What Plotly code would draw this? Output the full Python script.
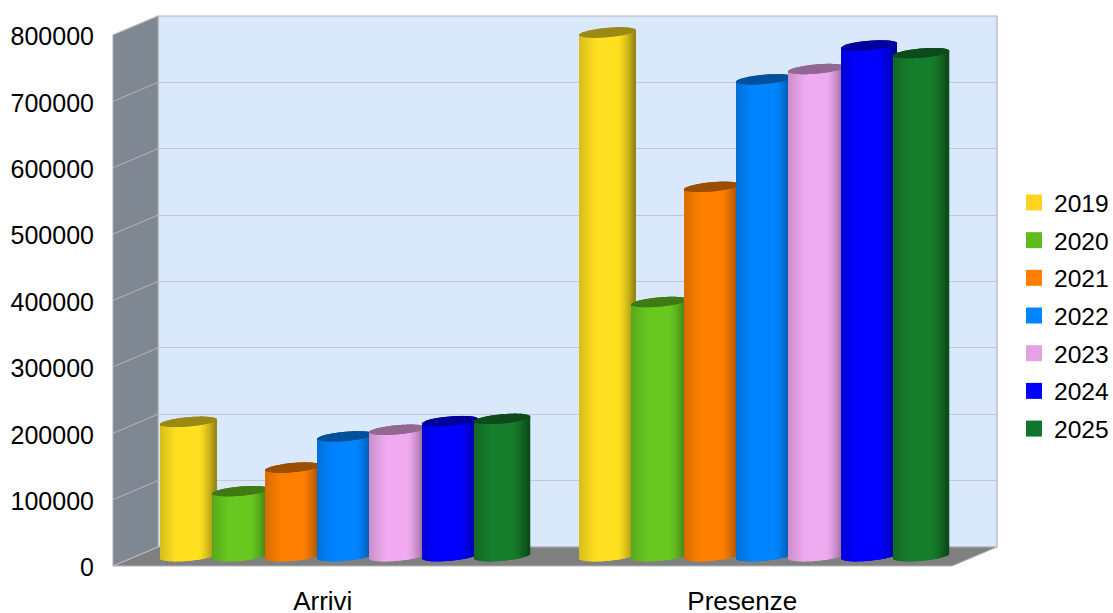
import plotly.graph_objects as go

categories = ["Arrivi", "Presenze"]
years = ["2019", "2020", "2021", "2022", "2023", "2024", "2025"]
arrivi = [202500, 98000, 133500, 180500, 190500, 203500, 207000]
presenze = [789000, 383000, 556500, 718500, 734000, 769500, 758000]
legend_colors = ["#ffd320", "#5fbc1e", "#ff8000", "#0084ff", "#e3a3e3", "#0000ff", "#11772d"]
body_colors = ["#ffe020", "#68c820", "#ff8000", "#0084ff", "#f0aaf0", "#0000ff", "#157d2b"]
tick_values = [0, 100000, 200000, 300000, 400000, 500000, 600000, 700000, 800000]

W, H = 1113, 613
PX_PER_UNIT = 531 / 800000
GROUP_PX = 419
GROUP_X = 345.4
STEP = 52.3 / GROUP_PX
RADIUS = 27.8 / GROUP_PX
TILT = 2.4 / PX_PER_UNIT
ELL = 4.6 / PX_PER_UNIT
SLICES = 56
FONT = "Liberation Sans"
BASE_Y = 556.2


def px(x, y):
    return x / W, 1 - y / H


def path(points):
    pts = [px(*p) for p in points]
    return "M" + " L".join(f"{a:.5f},{b:.5f}" for a, b in pts) + " Z"


def shade(color, f):
    r, g, b = (int(color[i:i + 2], 16) for i in (1, 3, 5))
    return f"rgb({r * f:.0f},{g * f:.0f},{b * f:.0f})"


def light(t):
    if t < -0.35:
        return 1 - 0.16 * ((-0.35 - t) / 0.65) ** 1.2
    if t > 0.35:
        return 1 - 0.42 * ((t - 0.35) / 0.65) ** 1.5
    return 1.0


shapes = [
    dict(type="path", path=path([(158, 16), (997, 16), (997, 547), (158, 547)]), xref="paper", yref="paper",
         fillcolor="#d9e8fb", line=dict(color="#b3b3b3", width=1.2), layer="below"),
    dict(type="path", path=path([(113, 35), (158, 16), (158, 547), (113, 566)]), xref="paper", yref="paper",
         fillcolor="#7f8792", line=dict(color="#a9adb3", width=1), layer="below"),
    dict(type="path", path=path([(113, 566), (158, 547), (997, 547), (952, 566)]), xref="paper", yref="paper",
         fillcolor="#808080", line=dict(color="#b3b3b3", width=1), layer="below"),
]
for v in tick_values:
    y_front = 566 - v * PX_PER_UNIT
    x0, y0 = px(113, y_front)
    x1, y1 = px(158, y_front - 19)
    shapes.append(dict(type="line", x0=x0, y0=y0, x1=x1, y1=y1, xref="paper", yref="paper",
                       line=dict(color="#b3b7bd", width=1), layer="below"))

fig = go.Figure()

# back-wall grid subplot (lowest)
fig.add_trace(go.Scatter(x=[None], y=[None], xaxis="x", yaxis="y", showlegend=False, hoverinfo="skip"))

# cylinders: mid-depth subplot
for s, year in enumerate(years):
    xs, heights, bases, widths, colors = [], [], [], [], []
    for c in range(len(categories)):
        value = (arrivi, presenze)[c][s]
        centre = c + (s - 3) * STEP
        for i in range(SLICES):
            t = -1 + (i + 0.5) * 2 / SLICES
            arc = (1 - t * t) ** 0.5
            xs.append(centre + t * RADIUS)
            bases.append(t * TILT - ELL * arc)
            heights.append(value + ELL * arc)
            widths.append(RADIUS * 2 / SLICES * 1.35)
            colors.append(shade(body_colors[s], light(t)))
        for i in range(SLICES):
            t = -1 + (i + 0.5) * 2 / SLICES
            arc = (1 - t * t) ** 0.5
            xs.append(centre + t * RADIUS)
            bases.append(value + t * TILT - ELL * arc)
            heights.append(2 * ELL * arc)
            widths.append(RADIUS * 2 / SLICES * 1.35)
            colors.append(shade(body_colors[s], 0.61))
    fig.add_trace(go.Bar(x=xs, y=heights, base=bases, width=widths, xaxis="x2", yaxis="y2",
                         marker=dict(color=colors, line=dict(width=0)), showlegend=False,
                         name=year, hoverinfo="skip"))

# legend entries on front subplot
for s, year in enumerate(years):
    fig.add_trace(go.Scatter(x=[None], y=[None], xaxis="x3", yaxis="y3", mode="markers", name=year,
                             legendgroup=year,
                             marker=dict(symbol="square", size=16, color=legend_colors[s])))

fig.update_layout(
    width=W, height=H, margin=dict(l=0, r=0, t=0, b=0, autoexpand=False),
    paper_bgcolor="white", plot_bgcolor="rgba(0,0,0,0)",
    font=dict(family=FONT, size=25, color="#000000"),
    barmode="overlay", shapes=shapes, hovermode=False,
    xaxis=dict(domain=[158 / W, 997 / W], range=[0, 1], visible=False),
    yaxis=dict(domain=[1 - 547 / H, 1 - 16 / H], range=[0, 800000], tickvals=tick_values, showticklabels=False,
               showgrid=True, gridcolor="#c3c8cf", gridwidth=1.3, zeroline=False, showline=False, ticks=""),
    xaxis2=dict(domain=[0, 1], range=[(0 - GROUP_X) / GROUP_PX, (W - GROUP_X) / GROUP_PX], visible=False),
    yaxis2=dict(domain=[0, 1], range=[(BASE_Y - H) / PX_PER_UNIT, BASE_Y / PX_PER_UNIT], visible=False),
    xaxis3=dict(domain=[113 / W, 952 / W], range=[-0.5, 1.5], tickvals=[0, 1], ticktext=categories,
                tickfont=dict(family=FONT, size=26),
                showgrid=False, zeroline=False, showline=False, ticks="outside", ticklen=10,
                tickcolor="rgba(0,0,0,0)", anchor="y3"),
    yaxis3=dict(domain=[1 - 567.5 / H, 1 - 36.5 / H], range=[0, 800000], tickvals=tick_values,
                tickformat="d", showgrid=False, zeroline=False, showline=False, ticks="outside", ticklen=13,
                tickcolor="rgba(0,0,0,0)", anchor="x3"),
    legend=dict(x=1017 / W, xanchor="left", y=1 - 180 / H, yanchor="top", tracegroupgap=2.7,
                indentation=-3, bgcolor="rgba(0,0,0,0)", borderwidth=0, traceorder="grouped",
                font=dict(family=FONT, size=24.6)),
)

fig.write_html("out.html", config={"displayModeBar": False},
               post_script="document.body.style.margin='0';document.body.style.overflow='hidden';")
